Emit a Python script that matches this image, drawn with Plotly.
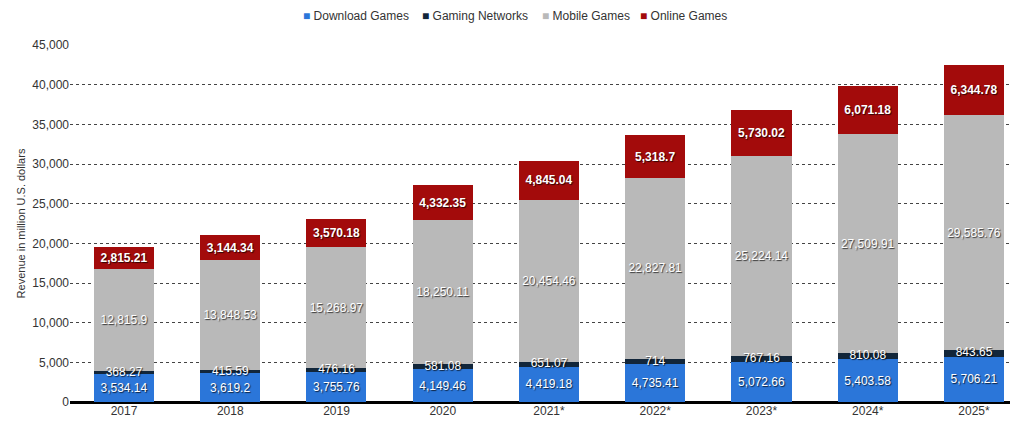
import plotly.graph_objects as go

years = ["2017", "2018", "2019", "2020", "2021*", "2022*", "2023*", "2024*", "2025*"]
download = [3534.14, 3619.2, 3755.76, 4149.46, 4419.18, 4735.41, 5072.66, 5403.58, 5706.21]
networks = [368.27, 415.59, 476.16, 581.08, 651.07, 714, 767.16, 810.08, 843.65]
mobile = [12815.9, 13848.53, 15268.97, 18250.11, 20454.46, 22827.81, 25224.14, 27509.91, 29585.76]
online = [2815.21, 3144.34, 3570.18, 4332.35, 4845.04, 5318.7, 5730.02, 6071.18, 6344.78]

series_names = ["Download Games", "Gaming Networks", "Mobile Games", "Online Games"]
colors = ["#2b76d9", "#12263a", "#b9b9b9", "#a30b0b"]

def fmt(v):
    return f"{v:,.2f}".rstrip("0").rstrip(".")

x = list(range(len(years)))
bw = 0.565
font_family = "Liberation Sans, Arial, sans-serif"
shadow = "1px 1px 1px rgba(0,0,0,0.7)"

# page body has an 8px default margin
W, H = 1011, 419
ML, MR, MT, MB = 62, 9, 37, 25

fig = go.Figure()
fig.add_bar(name=series_names[0], x=x, y=download, width=bw, marker_color=colors[0],
            marker_line_width=0, text=[fmt(v) for v in download], textposition="inside",
            insidetextanchor="middle", showlegend=False,
            textfont=dict(color="white", size=12, family=font_family, shadow=shadow))
fig.add_bar(name=series_names[1], x=x, y=networks, width=bw, marker_color=colors[1],
            marker_line_width=0, textposition="none", showlegend=False)
fig.add_bar(name=series_names[2], x=x, y=mobile, width=bw, marker_color=colors[2],
            marker_line_width=0, text=[fmt(v) for v in mobile], textposition="inside",
            insidetextanchor="middle", showlegend=False,
            textfont=dict(color="white", size=12, family=font_family, shadow=shadow))
fig.add_bar(name=series_names[3], x=x, y=online, width=bw, marker_color=colors[3],
            marker_line_width=0, text=[fmt(v) for v in online], textposition="inside",
            insidetextanchor="middle", showlegend=False,
            textfont=dict(color="white", size=12, family=font_family, shadow=shadow, weight="bold"))

# labels for the thin gaming-networks segment
fig.add_scatter(x=x, y=[d + n / 2 for d, n in zip(download, networks)], mode="text",
                text=[fmt(v) for v in networks], showlegend=False, hoverinfo="skip",
                textfont=dict(color="white", size=12, family=font_family, shadow=shadow))

# compact legend drawn as text annotations
legend_px = [293, 412, 532, 630]
pw = W - ML - MR
ph = H - MT - MB
for name, col, px in zip(series_names, colors, legend_px):
    fig.add_annotation(xref="paper", yref="paper", x=(px - ML) / pw, y=1 + (MT - 8) / ph,
                       xanchor="left", yanchor="middle", showarrow=False,
                       text=f"<span style='color:{col}'>■</span> {name}",
                       font=dict(size=12, color="#333333", family=font_family))

fig.update_layout(
    barmode="stack",
    width=W, height=H,
    margin=dict(l=ML, r=MR, t=MT, b=MB, autoexpand=False),
    plot_bgcolor="white", paper_bgcolor="white",
    font=dict(family=font_family, size=12, color="#333333"),
    showlegend=False,
    xaxis=dict(tickmode="array", tickvals=x, ticktext=years, range=[-0.508, 8.339],
               showgrid=False, zeroline=False, showline=False, ticks="", automargin=False,
               tickfont=dict(size=12, color="#333333")),
    yaxis=dict(range=[0, 45000], tickvals=list(range(0, 45001, 5000)), tickformat=",",
               showgrid=True, gridcolor="#444444", griddash="dot", gridwidth=1,
               zeroline=True, zerolinecolor="#000000", zerolinewidth=2.5,
               ticks="", automargin=False, tickfont=dict(size=12, color="#333333"),
               title=dict(text="Revenue in million U.S. dollars", font=dict(size=11, color="#333333"),
                          standoff=4)),
)

fig.write_html("out.html")
